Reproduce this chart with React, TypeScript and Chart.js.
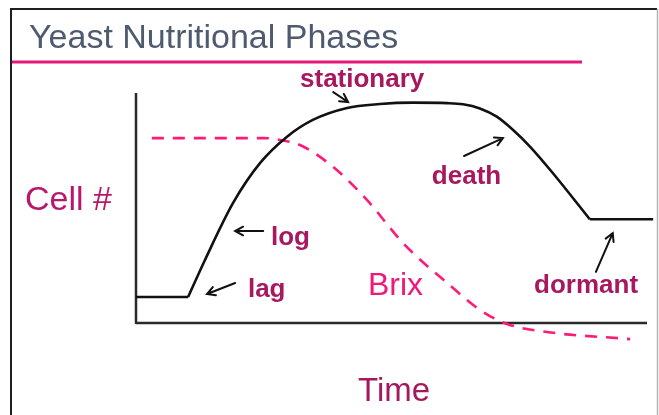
import React, { useEffect, useRef } from "react";
import { Chart, registerables } from "chart.js";

Chart.register(...registerables);

// Cell count curve, split into its phases (time units 0-100, count units 0-100)
const lagTime = [0, 10.2];
const lagCount = [11.3, 11.3];
const growthTime = [10.2, 13.5, 19.0, 24.3, 29.5, 34.6, 41.3, 47.7, 54.2, 60.9, 64.0, 67.3, 70.6, 73.8, 77.1, 81.6, 88.8];
const growthCount = [11.3, 27.4, 52.2, 69.6, 80.9, 88.3, 93.5, 95.2, 95.8, 95.6, 95.1, 93.3, 89.7, 83.9, 76.7, 65.1, 45.1];
const dormantTime = [88.8, 101.2];
const dormantCount = [45.1, 45.1];

// Brix (sugar) curve
const brixTime = [3.1, 24.9, 28.2, 32.1, 38.6, 45.2, 51.7, 54.2, 60.9, 67.3, 72.6, 80.4, 96.7];
const brixLevel = [80.4, 80.4, 79.6, 77.4, 67.8, 53.5, 36.1, 30.4, 17.4, 5.7, -0.4, -3.9, -7.0];

// Phase labels and arrows (data units)
const labelTexts = ["stationary", "death", "log", "lag", "dormant"];
const labelTime = [32.1, 57.9, 26.4, 21.9, 77.9];
const labelCount = [102.6, 60.4, 33.9, 11.3, 13.0];
const arrowFromTime = [38.6, 64.2, 24.9, 19.4, 90.0];
const arrowFromCount = [100.4, 72.6, 40.0, 17.4, 22.2];
const arrowToTime = [41.5, 71.8, 19.4, 13.9, 93.3];
const arrowToCount = [96.1, 80.4, 40.0, 12.6, 39.1];
const brixLabel = { text: "Brix", time: 45.4, level: 12.2 };

const titleText = "Yeast Nutritional Phases";
const yTitle = "Cell #";
const xTitle = "Time";

const pts = (xs: number[], ys: number[]) => xs.map((x, i) => ({ x, y: ys[i] }));

const FONT = "'Liberation Sans', Arial, sans-serif";

const decor = {
  id: "decor",
  beforeDraw(chart: any) {
    const ctx = chart.ctx;
    ctx.save();
    ctx.fillStyle = "#ffffff";
    ctx.fillRect(0, 0, chart.width, chart.height);
    // frame
    ctx.strokeStyle = "#1e1e1e";
    ctx.lineWidth = 2;
    ctx.beginPath();
    ctx.moveTo(11, chart.height);
    ctx.lineTo(11, 9);
    ctx.lineTo(657, 9);
    ctx.stroke();
    ctx.strokeStyle = "#b4b4b4";
    ctx.lineWidth = 1.5;
    ctx.beginPath();
    ctx.moveTo(657.5, 9);
    ctx.lineTo(657.5, chart.height);
    ctx.stroke();
    // title
    ctx.fillStyle = "#4e5a6e";
    ctx.font = `34px ${FONT}`;
    ctx.textBaseline = "alphabetic";
    ctx.textAlign = "left";
    ctx.fillText(titleText, 29, 48);
    ctx.strokeStyle = "#e6197a";
    ctx.lineWidth = 3.2;
    ctx.beginPath();
    ctx.moveTo(12, 62);
    ctx.lineTo(582, 62);
    ctx.stroke();
    ctx.restore();
  },
  beforeDatasetsDraw(chart: any) {
    const ctx = chart.ctx;
    const a = chart.chartArea;
    ctx.save();
    ctx.strokeStyle = "#2a2a2a";
    ctx.lineWidth = 2.5;
    ctx.lineJoin = "round";
    ctx.beginPath();
    ctx.moveTo(a.left, a.top);
    ctx.lineTo(a.left, a.bottom);
    ctx.lineTo(a.right, a.bottom);
    ctx.stroke();
    ctx.restore();
  },
  afterDatasetsDraw(chart: any) {
    const ctx = chart.ctx;
    const xs = chart.scales.x;
    const ys = chart.scales.y;
    const a = chart.chartArea;
    ctx.save();
    // arrows
    ctx.strokeStyle = "#111111";
    ctx.lineWidth = 2;
    ctx.lineCap = "round";
    for (let i = 0; i < arrowFromTime.length; i++) {
      const x1 = xs.getPixelForValue(arrowFromTime[i]);
      const y1 = ys.getPixelForValue(arrowFromCount[i]);
      const x2 = xs.getPixelForValue(arrowToTime[i]);
      const y2 = ys.getPixelForValue(arrowToCount[i]);
      const ang = Math.atan2(y2 - y1, x2 - x1);
      const h = 9;
      ctx.beginPath();
      ctx.moveTo(x1, y1);
      ctx.lineTo(x2, y2);
      ctx.moveTo(x2 - h * Math.cos(ang - 0.5), y2 - h * Math.sin(ang - 0.5));
      ctx.lineTo(x2, y2);
      ctx.lineTo(x2 - h * Math.cos(ang + 0.5), y2 - h * Math.sin(ang + 0.5));
      ctx.stroke();
    }
    // labels
    ctx.textAlign = "left";
    ctx.textBaseline = "alphabetic";
    ctx.fillStyle = "#a8185f";
    ctx.font = `bold 26px ${FONT}`;
    for (let i = 0; i < labelTexts.length; i++) {
      ctx.fillText(labelTexts[i], xs.getPixelForValue(labelTime[i]), ys.getPixelForValue(labelCount[i]));
    }
    ctx.fillStyle = "#f0197a";
    ctx.font = `32px ${FONT}`;
    ctx.fillText(brixLabel.text, xs.getPixelForValue(brixLabel.time), ys.getPixelForValue(brixLabel.level));
    // axis titles
    ctx.fillStyle = "#b8186b";
    ctx.font = `34px ${FONT}`;
    ctx.fillText(yTitle, a.left - 111, a.top + 117);
    ctx.fillStyle = "#a3195c";
    ctx.font = `33px ${FONT}`;
    ctx.fillText(xTitle, a.left + 222, a.bottom + 78);
    ctx.restore();
  },
};

export default function App() {
  const ref = useRef<HTMLCanvasElement | null>(null);
  useEffect(() => {
    if (!ref.current) return;
    const black = {
      borderColor: "#111111",
      borderWidth: 2.6,
      pointRadius: 0,
      fill: false,
      clip: false as any,
    };
    const chart = new Chart(ref.current, {
      type: "line",
      data: {
        datasets: [
          { ...black, label: "lag", data: pts(lagTime, lagCount), tension: 0 },
          { ...black, label: "growth", data: pts(growthTime, growthCount), cubicInterpolationMode: "monotone" },
          { ...black, label: "dormant", data: pts(dormantTime, dormantCount), tension: 0 },
          {
            label: "Brix",
            data: pts(brixTime, brixLevel),
            borderColor: "#ff1a76",
            borderWidth: 2.6,
            borderDash: [12, 9],
            pointRadius: 0,
            fill: false,
            clip: false as any,
            cubicInterpolationMode: "monotone",
          },
        ],
      },
      options: {
        animation: false,
        responsive: false,
        devicePixelRatio: 1,
        layout: { padding: { left: 136, top: 93, right: 12, bottom: 92 } },
        scales: {
          x: { type: "linear", min: 0, max: 100, display: false },
          y: { type: "linear", min: 0, max: 100, display: false },
        },
        plugins: { legend: { display: false }, tooltip: { enabled: false }, title: { display: false } },
      },
      plugins: [decor],
    });
    return () => chart.destroy();
  }, []);
  return (
    <div style={{ position: "fixed", left: 0, top: 0, width: 659, height: 415, background: "#fff" }}>
      <canvas ref={ref} width={659} height={415} style={{ display: "block", width: 659, height: 415 }} />
    </div>
  );
}
